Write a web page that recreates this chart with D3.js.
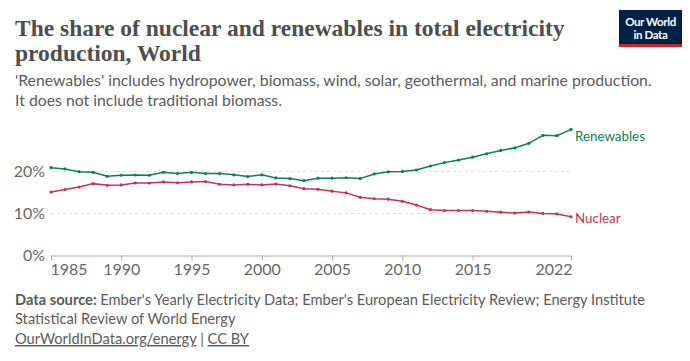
<!DOCTYPE html>
<html>
<head>
<meta charset="utf-8">
<script src="https://cdn.jsdelivr.net/npm/d3@7"></script>
<style>
  body { margin: 0; background: #fff; }
  svg text { font-family: Lato, "Noto Sans", sans-serif; }
  svg text.serif { font-family: "Liberation Serif", "DejaVu Serif", serif; }
</style>
</head>
<body>
<svg id="chart" width="690" height="361"></svg>
<script>
var years = [1985,1986,1987,1988,1989,1990,1991,1992,1993,1994,1995,1996,1997,1998,1999,2000,2001,2002,2003,2004,2005,2006,2007,2008,2009,2010,2011,2012,2013,2014,2015,2016,2017,2018,2019,2020,2021,2022];
var renewables = [20.9,20.6,19.95,19.8,18.85,19.1,19.15,19.1,19.8,19.5,19.8,19.5,19.5,19.2,18.8,19.2,18.45,18.3,17.8,18.4,18.4,18.5,18.3,19.4,19.9,20.0,20.35,21.3,22.1,22.7,23.4,24.2,25.0,25.6,26.7,28.6,28.5,30.0];
var nuclear = [15.1,15.7,16.3,17.1,16.7,16.8,17.25,17.25,17.5,17.3,17.5,17.6,16.95,16.8,16.95,16.8,17.0,16.6,15.9,15.75,15.3,14.9,13.85,13.5,13.4,12.9,12.0,10.9,10.7,10.7,10.7,10.5,10.3,10.1,10.35,10.0,9.9,9.2];
var yTicks = [0, 10, 20];
var xTicks = [1985, 1990, 1995, 2000, 2005, 2010, 2015, 2022];

var svg = d3.select("#chart");

var x = d3.scaleLinear().domain([1985, 2022]).range([51, 571]);
var y = d3.scaleLinear().domain([0, 30.1]).range([255.5, 129]);

// font size that makes a text node as wide as the original
function fitSize(sel, base, target) {
  sel.style("font-size", base + "px");
  var w = sel.node().getComputedTextLength();
  return base * target / w;
}

// title
var t1 = svg.append("text").attr("class", "serif")
    .attr("x", 15).attr("y", 36)
    .attr("fill", "#4e4e4e")
    .style("font-weight", "bold")
    .text("The share of nuclear and renewables in total electricity");
var fs = fitSize(t1, 24, 550);
t1.style("font-size", fs + "px");
svg.append("text").attr("class", "serif")
    .attr("x", 15).attr("y", 61)
    .attr("fill", "#4e4e4e")
    .style("font-size", fs + "px")
    .style("font-weight", "bold")
    .text("production, World");

var s1 = svg.append("text").attr("x", 15).attr("y", 86)
    .attr("fill", "#5b5b5b")
    .text("'Renewables' includes hydropower, biomass, wind, solar, geothermal, and marine production.");
var subFs = fitSize(s1, 15, 637);
s1.style("font-size", subFs + "px");
svg.append("text").attr("x", 15).attr("y", 106)
    .attr("fill", "#5b5b5b").style("font-size", subFs + "px")
    .text("It does not include traditional biomass.");

// logo
var logo = svg.append("g");
logo.append("rect").attr("x", 619).attr("y", 10).attr("width", 63).attr("height", 37).attr("fill", "#002147");
logo.append("rect").attr("x", 619).attr("y", 44).attr("width", 63).attr("height", 3).attr("fill", "#ce261e");
logo.append("text").attr("x", 650.5).attr("y", 26).attr("text-anchor", "middle")
    .attr("fill", "#fff").style("font-size", "11.5px").style("font-weight", "bold").style("letter-spacing", "-0.4px")
    .text("Our World");
logo.append("text").attr("x", 650.5).attr("y", 39).attr("text-anchor", "middle")
    .attr("fill", "#fff").style("font-size", "11.5px").style("font-weight", "bold").style("letter-spacing", "-0.4px")
    .text("in Data");

// gridlines
svg.append("g").selectAll("line")
  .data(yTicks.filter(function(d) { return d > 0; }))
  .enter().append("line")
    .attr("x1", x(1985)).attr("x2", x(2022))
    .attr("y1", function(d) { return y(d); })
    .attr("y2", function(d) { return y(d); })
    .attr("stroke", "#ddd")
    .attr("stroke-dasharray", "3,3");

// axis label size measured from "1985"
var probe = svg.append("text").text("1985");
var axFs = fitSize(probe, 14, 37);
probe.remove();

// y labels
svg.append("g").selectAll("text")
  .data(yTicks)
  .enter().append("text")
    .attr("x", 45)
    .attr("y", function(d) { return y(d); })
    .attr("dy", "0.35em")
    .attr("text-anchor", "end")
    .attr("fill", "#666")
    .style("font-size", axFs + "px")
    .text(function(d) { return d + "%"; });

// x axis
var xAxis = svg.append("g")
    .attr("transform", "translate(0," + y(0) + ")")
    .call(d3.axisBottom(x).tickValues(xTicks).tickFormat(d3.format("d")).tickSize(5).tickSizeOuter(0).tickPadding(3));
xAxis.select(".domain").attr("stroke", "#aaa");
xAxis.selectAll(".tick line").attr("stroke", "#aaa");
xAxis.selectAll(".tick text")
    .attr("fill", "#666")
    .style("font-size", axFs + "px")
    .style("font-family", "Lato, sans-serif")
    .attr("text-anchor", function(d) { return d === 1985 ? "start" : d === 2022 ? "end" : "middle"; })
    .attr("x", function(d) { return d === 1985 ? -1 : d === 2022 ? 1 : 0; });

// series
var series = [
  { name: "Renewables", values: renewables, color: "#0b7f58", shift: 7 },
  { name: "Nuclear", values: nuclear, color: "#c4344f", shift: 1 }
];

var line = d3.line()
    .x(function(d, i) { return x(years[i]); })
    .y(function(d) { return y(d); });

var labFs = null;
series.forEach(function(s) {
  svg.append("path")
      .datum(s.values)
      .attr("fill", "none")
      .attr("stroke", s.color)
      .attr("stroke-width", 1.5)
      .attr("d", line);

  svg.append("g").selectAll("circle")
    .data(s.values)
    .enter().append("circle")
      .attr("cx", function(d, i) { return x(years[i]); })
      .attr("cy", function(d) { return y(d); })
      .attr("r", 1.6)
      .attr("fill", s.color);

  var last = s.values[s.values.length - 1];
  var lab = svg.append("text")
      .attr("x", x(2022) + 4)
      .attr("y", y(last) + s.shift)
      .attr("dy", "0.35em")
      .attr("fill", s.color)
      .text(s.name);
  if (labFs === null) labFs = fitSize(lab, 14, 70);
  lab.style("font-size", labFs + "px");
});

// footer
var foot = svg.append("g").attr("fill", "#5b5b5b");
var f1 = foot.append("text").attr("x", 15).attr("y", 305);
f1.append("tspan").style("font-weight", "bold").text("Data source: ");
f1.append("tspan").text("Ember's Yearly Electricity Data; Ember's European Electricity Review; Energy Institute");
var footFs = fitSize(f1, 13.5, 631);
foot.style("font-size", footFs + "px");
f1.style("font-size", null);
foot.append("text").attr("x", 15).attr("y", 324).text("Statistical Review of World Energy");
var f3 = foot.append("text").attr("x", 15).attr("y", 344);
f3.append("tspan").style("text-decoration", "underline").text("OurWorldInData.org/energy");
f3.append("tspan").text(" | ");
f3.append("tspan").style("text-decoration", "underline").text("CC BY");
</script>
</body>
</html>
